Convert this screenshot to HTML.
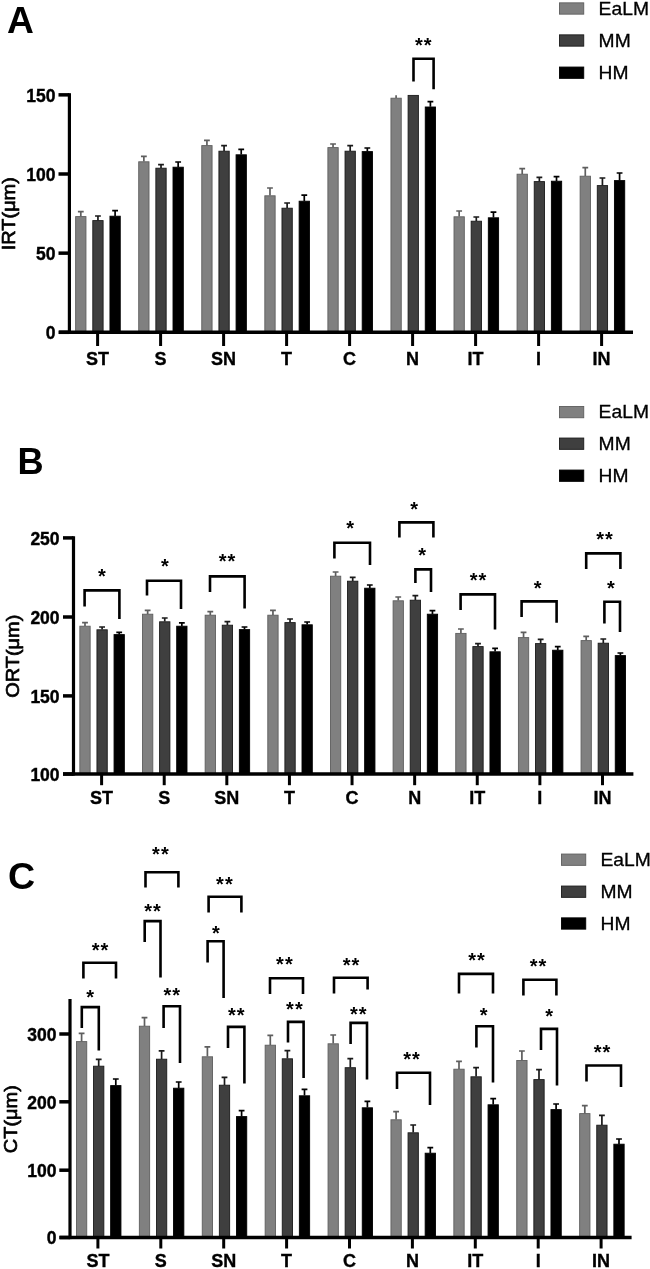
<!DOCTYPE html>
<html><head><meta charset="utf-8"><title>Figure</title>
<style>
html,body{margin:0;padding:0;background:#fff;}
svg{display:block;font-family:"Liberation Sans", sans-serif;fill:#000;will-change:transform;}
</style></head><body>
<svg width="650" height="1269" viewBox="0 0 650 1269">
<rect x="0" y="0" width="650" height="1269" fill="#fff"/>
<path d="M80.80 216.40V211.60M77.90 211.60H83.70" stroke="#5e5e5e" stroke-width="1.7" fill="none"/>
<rect x="75.65" y="216.60" width="10.30" height="115.90" fill="#808080" stroke="#5e5e5e" stroke-width="0.9"/>
<path d="M97.95 220.40V216.00M95.05 216.00H100.85" stroke="#1a1a1a" stroke-width="1.7" fill="none"/>
<rect x="92.80" y="220.60" width="10.30" height="111.90" fill="#3f3f3f" stroke="#1a1a1a" stroke-width="0.9"/>
<path d="M115.10 216.00V210.60M112.20 210.60H118.00" stroke="#000000" stroke-width="1.7" fill="none"/>
<rect x="109.95" y="216.20" width="10.30" height="116.30" fill="#000000" stroke="#000000" stroke-width="0.9"/>
<path d="M143.86 161.60V156.40M140.96 156.40H146.76" stroke="#5e5e5e" stroke-width="1.7" fill="none"/>
<rect x="138.71" y="161.80" width="10.30" height="170.70" fill="#808080" stroke="#5e5e5e" stroke-width="0.9"/>
<path d="M161.01 168.00V164.60M158.11 164.60H163.91" stroke="#1a1a1a" stroke-width="1.7" fill="none"/>
<rect x="155.86" y="168.20" width="10.30" height="164.30" fill="#3f3f3f" stroke="#1a1a1a" stroke-width="0.9"/>
<path d="M178.16 167.00V162.00M175.26 162.00H181.06" stroke="#000000" stroke-width="1.7" fill="none"/>
<rect x="173.01" y="167.20" width="10.30" height="165.30" fill="#000000" stroke="#000000" stroke-width="0.9"/>
<path d="M206.92 145.40V140.40M204.02 140.40H209.82" stroke="#5e5e5e" stroke-width="1.7" fill="none"/>
<rect x="201.77" y="145.60" width="10.30" height="186.90" fill="#808080" stroke="#5e5e5e" stroke-width="0.9"/>
<path d="M224.07 151.00V145.60M221.17 145.60H226.97" stroke="#1a1a1a" stroke-width="1.7" fill="none"/>
<rect x="218.92" y="151.20" width="10.30" height="181.30" fill="#3f3f3f" stroke="#1a1a1a" stroke-width="0.9"/>
<path d="M241.22 154.60V149.40M238.32 149.40H244.12" stroke="#000000" stroke-width="1.7" fill="none"/>
<rect x="236.07" y="154.80" width="10.30" height="177.70" fill="#000000" stroke="#000000" stroke-width="0.9"/>
<path d="M269.98 195.60V188.00M267.08 188.00H272.88" stroke="#5e5e5e" stroke-width="1.7" fill="none"/>
<rect x="264.83" y="195.80" width="10.30" height="136.70" fill="#808080" stroke="#5e5e5e" stroke-width="0.9"/>
<path d="M287.13 208.00V203.00M284.23 203.00H290.03" stroke="#1a1a1a" stroke-width="1.7" fill="none"/>
<rect x="281.98" y="208.20" width="10.30" height="124.30" fill="#3f3f3f" stroke="#1a1a1a" stroke-width="0.9"/>
<path d="M304.28 201.00V195.20M301.38 195.20H307.18" stroke="#000000" stroke-width="1.7" fill="none"/>
<rect x="299.13" y="201.20" width="10.30" height="131.30" fill="#000000" stroke="#000000" stroke-width="0.9"/>
<path d="M333.04 147.40V144.00M330.14 144.00H335.94" stroke="#5e5e5e" stroke-width="1.7" fill="none"/>
<rect x="327.89" y="147.60" width="10.30" height="184.90" fill="#808080" stroke="#5e5e5e" stroke-width="0.9"/>
<path d="M350.19 151.00V145.60M347.29 145.60H353.09" stroke="#1a1a1a" stroke-width="1.7" fill="none"/>
<rect x="345.04" y="151.20" width="10.30" height="181.30" fill="#3f3f3f" stroke="#1a1a1a" stroke-width="0.9"/>
<path d="M367.34 151.40V148.00M364.44 148.00H370.24" stroke="#000000" stroke-width="1.7" fill="none"/>
<rect x="362.19" y="151.60" width="10.30" height="180.90" fill="#000000" stroke="#000000" stroke-width="0.9"/>
<path d="M396.10 98.00V95.20" stroke="#5e5e5e" stroke-width="1.7" fill="none"/>
<rect x="390.95" y="98.20" width="10.30" height="234.30" fill="#808080" stroke="#5e5e5e" stroke-width="0.9"/>
<rect x="408.10" y="95.40" width="10.30" height="237.10" fill="#3f3f3f" stroke="#1a1a1a" stroke-width="0.9"/>
<path d="M430.40 106.80V101.60M427.50 101.60H433.30" stroke="#000000" stroke-width="1.7" fill="none"/>
<rect x="425.25" y="107.00" width="10.30" height="225.50" fill="#000000" stroke="#000000" stroke-width="0.9"/>
<path d="M459.16 216.60V211.00M456.26 211.00H462.06" stroke="#5e5e5e" stroke-width="1.7" fill="none"/>
<rect x="454.01" y="216.80" width="10.30" height="115.70" fill="#808080" stroke="#5e5e5e" stroke-width="0.9"/>
<path d="M476.31 221.00V217.00M473.41 217.00H479.21" stroke="#1a1a1a" stroke-width="1.7" fill="none"/>
<rect x="471.16" y="221.20" width="10.30" height="111.30" fill="#3f3f3f" stroke="#1a1a1a" stroke-width="0.9"/>
<path d="M493.46 217.60V212.20M490.56 212.20H496.36" stroke="#000000" stroke-width="1.7" fill="none"/>
<rect x="488.31" y="217.80" width="10.30" height="114.70" fill="#000000" stroke="#000000" stroke-width="0.9"/>
<path d="M522.22 174.00V168.60M519.32 168.60H525.12" stroke="#5e5e5e" stroke-width="1.7" fill="none"/>
<rect x="517.07" y="174.20" width="10.30" height="158.30" fill="#808080" stroke="#5e5e5e" stroke-width="0.9"/>
<path d="M539.37 181.40V177.40M536.47 177.40H542.27" stroke="#1a1a1a" stroke-width="1.7" fill="none"/>
<rect x="534.22" y="181.60" width="10.30" height="150.90" fill="#3f3f3f" stroke="#1a1a1a" stroke-width="0.9"/>
<path d="M556.52 181.00V176.60M553.62 176.60H559.42" stroke="#000000" stroke-width="1.7" fill="none"/>
<rect x="551.37" y="181.20" width="10.30" height="151.30" fill="#000000" stroke="#000000" stroke-width="0.9"/>
<path d="M585.28 176.00V167.60M582.38 167.60H588.18" stroke="#5e5e5e" stroke-width="1.7" fill="none"/>
<rect x="580.13" y="176.20" width="10.30" height="156.30" fill="#808080" stroke="#5e5e5e" stroke-width="0.9"/>
<path d="M602.43 185.40V178.00M599.53 178.00H605.33" stroke="#1a1a1a" stroke-width="1.7" fill="none"/>
<rect x="597.28" y="185.60" width="10.30" height="146.90" fill="#3f3f3f" stroke="#1a1a1a" stroke-width="0.9"/>
<path d="M619.58 180.40V173.00M616.68 173.00H622.48" stroke="#000000" stroke-width="1.7" fill="none"/>
<rect x="614.43" y="180.60" width="10.30" height="151.90" fill="#000000" stroke="#000000" stroke-width="0.9"/>
<path d="M69.40 93.20V333.90" stroke="#000" stroke-width="3.2" fill="none"/>
<path d="M59.00 332.30H633.00" stroke="#000" stroke-width="3.5" fill="none"/>
<path d="M58.50 332.30H69.40" stroke="#000" stroke-width="3.5" fill="none"/>
<text x="55.40" y="339.15" font-size="17.5" font-weight="700" text-anchor="end" stroke="#000" stroke-width="0.4">0</text>
<path d="M58.50 253.15H69.40" stroke="#000" stroke-width="3.5" fill="none"/>
<text x="55.40" y="260.00" font-size="17.5" font-weight="700" text-anchor="end" stroke="#000" stroke-width="0.4">50</text>
<path d="M58.50 174.00H69.40" stroke="#000" stroke-width="3.5" fill="none"/>
<text x="55.40" y="180.85" font-size="17.5" font-weight="700" text-anchor="end" stroke="#000" stroke-width="0.4">100</text>
<path d="M58.50 94.85H69.40" stroke="#000" stroke-width="3.5" fill="none"/>
<text x="55.40" y="101.70" font-size="17.5" font-weight="700" text-anchor="end" stroke="#000" stroke-width="0.4">150</text>
<path d="M97.60 332.30V346.00" stroke="#000" stroke-width="3" fill="none"/>
<text x="97.60" y="365.00" font-size="18" font-weight="700" text-anchor="middle" stroke="#000" stroke-width="0.35">ST</text>
<path d="M160.60 332.30V346.00" stroke="#000" stroke-width="3" fill="none"/>
<text x="160.60" y="365.00" font-size="18" font-weight="700" text-anchor="middle" stroke="#000" stroke-width="0.35">S</text>
<path d="M223.60 332.30V346.00" stroke="#000" stroke-width="3" fill="none"/>
<text x="223.60" y="365.00" font-size="18" font-weight="700" text-anchor="middle" stroke="#000" stroke-width="0.35">SN</text>
<path d="M286.60 332.30V346.00" stroke="#000" stroke-width="3" fill="none"/>
<text x="286.60" y="365.00" font-size="18" font-weight="700" text-anchor="middle" stroke="#000" stroke-width="0.35">T</text>
<path d="M349.60 332.30V346.00" stroke="#000" stroke-width="3" fill="none"/>
<text x="349.60" y="365.00" font-size="18" font-weight="700" text-anchor="middle" stroke="#000" stroke-width="0.35">C</text>
<path d="M412.60 332.30V346.00" stroke="#000" stroke-width="3" fill="none"/>
<text x="412.60" y="365.00" font-size="18" font-weight="700" text-anchor="middle" stroke="#000" stroke-width="0.35">N</text>
<path d="M475.60 332.30V346.00" stroke="#000" stroke-width="3" fill="none"/>
<text x="475.60" y="365.00" font-size="18" font-weight="700" text-anchor="middle" stroke="#000" stroke-width="0.35">IT</text>
<path d="M538.60 332.30V346.00" stroke="#000" stroke-width="3" fill="none"/>
<text x="538.60" y="365.00" font-size="18" font-weight="700" text-anchor="middle" stroke="#000" stroke-width="0.35">I</text>
<path d="M601.60 332.30V346.00" stroke="#000" stroke-width="3" fill="none"/>
<text x="601.60" y="365.00" font-size="18" font-weight="700" text-anchor="middle" stroke="#000" stroke-width="0.35">IN</text>
<path d="M413.50 81.60V58.75H433.60V89.30" stroke="#000" stroke-width="2.6" fill="none" stroke-linejoin="miter" stroke-linecap="butt"/>
<text x="414.88" y="51.56" font-size="20.0" font-weight="700" letter-spacing="1.05">**</text>
<rect x="559.45" y="2.85" width="24.3" height="11.3" fill="#808080" stroke="#5e5e5e" stroke-width="0.9"/>
<text transform="translate(598.60 14.60) scale(1.06 1)" font-size="18.2" font-weight="400" stroke="#000" stroke-width="0.3">EaLM</text>
<rect x="559.45" y="34.85" width="24.3" height="11.3" fill="#3f3f3f" stroke="#1a1a1a" stroke-width="0.9"/>
<text transform="translate(598.60 46.70) scale(1.06 1)" font-size="18.2" font-weight="400" stroke="#000" stroke-width="0.3">MM</text>
<rect x="559.45" y="67.05" width="24.3" height="11.3" fill="#000000" stroke="#000000" stroke-width="0.9"/>
<text transform="translate(598.60 78.60) scale(1.06 1)" font-size="18.2" font-weight="400" stroke="#000" stroke-width="0.3">HM</text>
<text transform="translate(14.90 213.70) rotate(-90) scale(1.05 1)" font-size="19.0" font-weight="400" text-anchor="middle" stroke="#000" stroke-width="0.7" stroke-linejoin="round">IRT(μm)</text>
<text x="7.00" y="33.00" font-size="37.2" font-weight="700">A</text>
<path d="M85.00 626.00V622.60M82.10 622.60H87.90" stroke="#5e5e5e" stroke-width="1.7" fill="none"/>
<rect x="79.85" y="626.20" width="10.30" height="148.00" fill="#808080" stroke="#5e5e5e" stroke-width="0.9"/>
<path d="M102.10 629.60V627.00M99.20 627.00H105.00" stroke="#1a1a1a" stroke-width="1.7" fill="none"/>
<rect x="96.95" y="629.80" width="10.30" height="144.40" fill="#3f3f3f" stroke="#1a1a1a" stroke-width="0.9"/>
<path d="M119.20 634.40V632.40M116.30 632.40H122.10" stroke="#000000" stroke-width="1.7" fill="none"/>
<rect x="114.05" y="634.60" width="10.30" height="139.60" fill="#000000" stroke="#000000" stroke-width="0.9"/>
<path d="M147.65 614.00V610.40M144.75 610.40H150.55" stroke="#5e5e5e" stroke-width="1.7" fill="none"/>
<rect x="142.50" y="614.20" width="10.30" height="160.00" fill="#808080" stroke="#5e5e5e" stroke-width="0.9"/>
<path d="M164.75 621.60V618.00M161.85 618.00H167.65" stroke="#1a1a1a" stroke-width="1.7" fill="none"/>
<rect x="159.60" y="621.80" width="10.30" height="152.40" fill="#3f3f3f" stroke="#1a1a1a" stroke-width="0.9"/>
<path d="M181.85 626.00V622.80M178.95 622.80H184.75" stroke="#000000" stroke-width="1.7" fill="none"/>
<rect x="176.70" y="626.20" width="10.30" height="148.00" fill="#000000" stroke="#000000" stroke-width="0.9"/>
<path d="M210.30 615.00V611.60M207.40 611.60H213.20" stroke="#5e5e5e" stroke-width="1.7" fill="none"/>
<rect x="205.15" y="615.20" width="10.30" height="159.00" fill="#808080" stroke="#5e5e5e" stroke-width="0.9"/>
<path d="M227.40 625.00V621.60M224.50 621.60H230.30" stroke="#1a1a1a" stroke-width="1.7" fill="none"/>
<rect x="222.25" y="625.20" width="10.30" height="149.00" fill="#3f3f3f" stroke="#1a1a1a" stroke-width="0.9"/>
<path d="M244.50 629.40V627.00M241.60 627.00H247.40" stroke="#000000" stroke-width="1.7" fill="none"/>
<rect x="239.35" y="629.60" width="10.30" height="144.60" fill="#000000" stroke="#000000" stroke-width="0.9"/>
<path d="M272.95 615.00V610.40M270.05 610.40H275.85" stroke="#5e5e5e" stroke-width="1.7" fill="none"/>
<rect x="267.80" y="615.20" width="10.30" height="159.00" fill="#808080" stroke="#5e5e5e" stroke-width="0.9"/>
<path d="M290.05 622.40V619.00M287.15 619.00H292.95" stroke="#1a1a1a" stroke-width="1.7" fill="none"/>
<rect x="284.90" y="622.60" width="10.30" height="151.60" fill="#3f3f3f" stroke="#1a1a1a" stroke-width="0.9"/>
<path d="M307.15 624.60V622.00M304.25 622.00H310.05" stroke="#000000" stroke-width="1.7" fill="none"/>
<rect x="302.00" y="624.80" width="10.30" height="149.40" fill="#000000" stroke="#000000" stroke-width="0.9"/>
<path d="M335.60 576.00V572.00M332.70 572.00H338.50" stroke="#5e5e5e" stroke-width="1.7" fill="none"/>
<rect x="330.45" y="576.20" width="10.30" height="198.00" fill="#808080" stroke="#5e5e5e" stroke-width="0.9"/>
<path d="M352.70 581.00V577.40M349.80 577.40H355.60" stroke="#1a1a1a" stroke-width="1.7" fill="none"/>
<rect x="347.55" y="581.20" width="10.30" height="193.00" fill="#3f3f3f" stroke="#1a1a1a" stroke-width="0.9"/>
<path d="M369.80 588.00V585.00M366.90 585.00H372.70" stroke="#000000" stroke-width="1.7" fill="none"/>
<rect x="364.65" y="588.20" width="10.30" height="186.00" fill="#000000" stroke="#000000" stroke-width="0.9"/>
<path d="M398.25 600.60V597.00M395.35 597.00H401.15" stroke="#5e5e5e" stroke-width="1.7" fill="none"/>
<rect x="393.10" y="600.80" width="10.30" height="173.40" fill="#808080" stroke="#5e5e5e" stroke-width="0.9"/>
<path d="M415.35 600.00V595.60M412.45 595.60H418.25" stroke="#1a1a1a" stroke-width="1.7" fill="none"/>
<rect x="410.20" y="600.20" width="10.30" height="174.00" fill="#3f3f3f" stroke="#1a1a1a" stroke-width="0.9"/>
<path d="M432.45 614.00V610.60M429.55 610.60H435.35" stroke="#000000" stroke-width="1.7" fill="none"/>
<rect x="427.30" y="614.20" width="10.30" height="160.00" fill="#000000" stroke="#000000" stroke-width="0.9"/>
<path d="M460.90 633.20V629.00M458.00 629.00H463.80" stroke="#5e5e5e" stroke-width="1.7" fill="none"/>
<rect x="455.75" y="633.40" width="10.30" height="140.80" fill="#808080" stroke="#5e5e5e" stroke-width="0.9"/>
<path d="M478.00 646.40V643.60M475.10 643.60H480.90" stroke="#1a1a1a" stroke-width="1.7" fill="none"/>
<rect x="472.85" y="646.60" width="10.30" height="127.60" fill="#3f3f3f" stroke="#1a1a1a" stroke-width="0.9"/>
<path d="M495.10 651.60V648.40M492.20 648.40H498.00" stroke="#000000" stroke-width="1.7" fill="none"/>
<rect x="489.95" y="651.80" width="10.30" height="122.40" fill="#000000" stroke="#000000" stroke-width="0.9"/>
<path d="M523.55 637.40V632.40M520.65 632.40H526.45" stroke="#5e5e5e" stroke-width="1.7" fill="none"/>
<rect x="518.40" y="637.60" width="10.30" height="136.60" fill="#808080" stroke="#5e5e5e" stroke-width="0.9"/>
<path d="M540.65 643.40V639.40M537.75 639.40H543.55" stroke="#1a1a1a" stroke-width="1.7" fill="none"/>
<rect x="535.50" y="643.60" width="10.30" height="130.60" fill="#3f3f3f" stroke="#1a1a1a" stroke-width="0.9"/>
<path d="M557.75 650.00V646.60M554.85 646.60H560.65" stroke="#000000" stroke-width="1.7" fill="none"/>
<rect x="552.60" y="650.20" width="10.30" height="124.00" fill="#000000" stroke="#000000" stroke-width="0.9"/>
<path d="M586.20 640.40V636.40M583.30 636.40H589.10" stroke="#5e5e5e" stroke-width="1.7" fill="none"/>
<rect x="581.05" y="640.60" width="10.30" height="133.60" fill="#808080" stroke="#5e5e5e" stroke-width="0.9"/>
<path d="M603.30 643.00V639.00M600.40 639.00H606.20" stroke="#1a1a1a" stroke-width="1.7" fill="none"/>
<rect x="598.15" y="643.20" width="10.30" height="131.00" fill="#3f3f3f" stroke="#1a1a1a" stroke-width="0.9"/>
<path d="M620.40 655.40V653.00M617.50 653.00H623.30" stroke="#000000" stroke-width="1.7" fill="none"/>
<rect x="615.25" y="655.60" width="10.30" height="118.60" fill="#000000" stroke="#000000" stroke-width="0.9"/>
<path d="M73.50 536.30V775.60" stroke="#000" stroke-width="3.2" fill="none"/>
<path d="M63.00 774.00H633.40" stroke="#000" stroke-width="3.5" fill="none"/>
<path d="M63.00 774.00H73.50" stroke="#000" stroke-width="3.5" fill="none"/>
<text x="59.60" y="780.85" font-size="17.5" font-weight="700" text-anchor="end" stroke="#000" stroke-width="0.4">100</text>
<path d="M63.00 695.90H73.50" stroke="#000" stroke-width="3.5" fill="none"/>
<text x="59.60" y="702.75" font-size="17.5" font-weight="700" text-anchor="end" stroke="#000" stroke-width="0.4">150</text>
<path d="M63.00 617.00H73.50" stroke="#000" stroke-width="3.5" fill="none"/>
<text x="59.60" y="623.85" font-size="17.5" font-weight="700" text-anchor="end" stroke="#000" stroke-width="0.4">200</text>
<path d="M63.00 537.90H73.50" stroke="#000" stroke-width="3.5" fill="none"/>
<text x="59.60" y="544.75" font-size="17.5" font-weight="700" text-anchor="end" stroke="#000" stroke-width="0.4">250</text>
<path d="M101.60 774.00V785.20" stroke="#000" stroke-width="3" fill="none"/>
<text x="101.60" y="803.80" font-size="18" font-weight="700" text-anchor="middle" stroke="#000" stroke-width="0.35">ST</text>
<path d="M164.21 774.00V785.20" stroke="#000" stroke-width="3" fill="none"/>
<text x="164.21" y="803.80" font-size="18" font-weight="700" text-anchor="middle" stroke="#000" stroke-width="0.35">S</text>
<path d="M226.82 774.00V785.20" stroke="#000" stroke-width="3" fill="none"/>
<text x="226.82" y="803.80" font-size="18" font-weight="700" text-anchor="middle" stroke="#000" stroke-width="0.35">SN</text>
<path d="M289.43 774.00V785.20" stroke="#000" stroke-width="3" fill="none"/>
<text x="289.43" y="803.80" font-size="18" font-weight="700" text-anchor="middle" stroke="#000" stroke-width="0.35">T</text>
<path d="M352.04 774.00V785.20" stroke="#000" stroke-width="3" fill="none"/>
<text x="352.04" y="803.80" font-size="18" font-weight="700" text-anchor="middle" stroke="#000" stroke-width="0.35">C</text>
<path d="M414.65 774.00V785.20" stroke="#000" stroke-width="3" fill="none"/>
<text x="414.65" y="803.80" font-size="18" font-weight="700" text-anchor="middle" stroke="#000" stroke-width="0.35">N</text>
<path d="M477.26 774.00V785.20" stroke="#000" stroke-width="3" fill="none"/>
<text x="477.26" y="803.80" font-size="18" font-weight="700" text-anchor="middle" stroke="#000" stroke-width="0.35">IT</text>
<path d="M539.87 774.00V785.20" stroke="#000" stroke-width="3" fill="none"/>
<text x="539.87" y="803.80" font-size="18" font-weight="700" text-anchor="middle" stroke="#000" stroke-width="0.35">I</text>
<path d="M602.48 774.00V785.20" stroke="#000" stroke-width="3" fill="none"/>
<text x="602.48" y="803.80" font-size="18" font-weight="700" text-anchor="middle" stroke="#000" stroke-width="0.35">IN</text>
<path d="M84.60 606.60V590.40H119.40V619.00" stroke="#000" stroke-width="2.6" fill="none" stroke-linejoin="miter" stroke-linecap="butt"/>
<text x="97.89" y="583.36" font-size="20.0" font-weight="700" letter-spacing="1.05">*</text>
<path d="M147.00 595.60V580.80H181.00V609.00" stroke="#000" stroke-width="2.6" fill="none" stroke-linejoin="miter" stroke-linecap="butt"/>
<text x="161.09" y="572.96" font-size="20.0" font-weight="700" letter-spacing="1.05">*</text>
<path d="M210.00 592.00V576.40H244.60V608.60" stroke="#000" stroke-width="2.6" fill="none" stroke-linejoin="miter" stroke-linecap="butt"/>
<text x="218.68" y="568.36" font-size="20.0" font-weight="700" letter-spacing="1.05">**</text>
<path d="M334.40 558.60V542.80H370.00V565.00" stroke="#000" stroke-width="2.6" fill="none" stroke-linejoin="miter" stroke-linecap="butt"/>
<text x="346.29" y="535.36" font-size="20.0" font-weight="700" letter-spacing="1.05">*</text>
<path d="M399.40 537.60V522.40H433.40V537.60" stroke="#000" stroke-width="2.6" fill="none" stroke-linejoin="miter" stroke-linecap="butt"/>
<text x="410.29" y="515.76" font-size="20.0" font-weight="700" letter-spacing="1.05">*</text>
<path d="M415.40 583.00V569.40H431.00V592.00" stroke="#000" stroke-width="2.6" fill="none" stroke-linejoin="miter" stroke-linecap="butt"/>
<text x="418.29" y="562.16" font-size="20.0" font-weight="700" letter-spacing="1.05">*</text>
<path d="M460.60 610.00V594.40H495.00V629.40" stroke="#000" stroke-width="2.6" fill="none" stroke-linejoin="miter" stroke-linecap="butt"/>
<text x="469.68" y="586.96" font-size="20.0" font-weight="700" letter-spacing="1.05">**</text>
<path d="M521.60 617.00V601.40H556.60V622.80" stroke="#000" stroke-width="2.6" fill="none" stroke-linejoin="miter" stroke-linecap="butt"/>
<text x="533.79" y="595.36" font-size="20.0" font-weight="700" letter-spacing="1.05">*</text>
<path d="M586.20 569.00V553.40H620.40V569.00" stroke="#000" stroke-width="2.6" fill="none" stroke-linejoin="miter" stroke-linecap="butt"/>
<text x="596.28" y="546.36" font-size="20.0" font-weight="700" letter-spacing="1.05">**</text>
<path d="M604.40 623.60V601.80H620.00V632.00" stroke="#000" stroke-width="2.6" fill="none" stroke-linejoin="miter" stroke-linecap="butt"/>
<text x="607.09" y="595.36" font-size="20.0" font-weight="700" letter-spacing="1.05">*</text>
<rect x="559.45" y="406.45" width="24.3" height="11.3" fill="#808080" stroke="#5e5e5e" stroke-width="0.9"/>
<text transform="translate(598.60 418.30) scale(1.06 1)" font-size="18.2" font-weight="400" stroke="#000" stroke-width="0.3">EaLM</text>
<rect x="559.45" y="438.05" width="24.3" height="11.3" fill="#3f3f3f" stroke="#1a1a1a" stroke-width="0.9"/>
<text transform="translate(598.60 450.00) scale(1.06 1)" font-size="18.2" font-weight="400" stroke="#000" stroke-width="0.3">MM</text>
<rect x="559.45" y="470.05" width="24.3" height="11.3" fill="#000000" stroke="#000000" stroke-width="0.9"/>
<text transform="translate(598.60 481.70) scale(1.06 1)" font-size="18.2" font-weight="400" stroke="#000" stroke-width="0.3">HM</text>
<text transform="translate(18.80 656.20) rotate(-90) scale(1.05 1)" font-size="19.0" font-weight="400" text-anchor="middle" stroke="#000" stroke-width="0.7" stroke-linejoin="round">ORT(μm)</text>
<text x="17.60" y="474.30" font-size="36.2" font-weight="700">B</text>
<path d="M81.60 1041.40V1033.40M78.70 1033.40H84.50" stroke="#5e5e5e" stroke-width="1.7" fill="none"/>
<rect x="76.45" y="1041.60" width="10.30" height="196.10" fill="#808080" stroke="#5e5e5e" stroke-width="0.9"/>
<path d="M98.70 1066.00V1059.40M95.80 1059.40H101.60" stroke="#1a1a1a" stroke-width="1.7" fill="none"/>
<rect x="93.55" y="1066.20" width="10.30" height="171.50" fill="#3f3f3f" stroke="#1a1a1a" stroke-width="0.9"/>
<path d="M115.80 1085.40V1079.00M112.90 1079.00H118.70" stroke="#000000" stroke-width="1.7" fill="none"/>
<rect x="110.65" y="1085.60" width="10.30" height="152.10" fill="#000000" stroke="#000000" stroke-width="0.9"/>
<path d="M144.50 1026.00V1017.60M141.60 1017.60H147.40" stroke="#5e5e5e" stroke-width="1.7" fill="none"/>
<rect x="139.35" y="1026.20" width="10.30" height="211.50" fill="#808080" stroke="#5e5e5e" stroke-width="0.9"/>
<path d="M161.60 1059.00V1050.80M158.70 1050.80H164.50" stroke="#1a1a1a" stroke-width="1.7" fill="none"/>
<rect x="156.45" y="1059.20" width="10.30" height="178.50" fill="#3f3f3f" stroke="#1a1a1a" stroke-width="0.9"/>
<path d="M178.70 1088.00V1082.00M175.80 1082.00H181.60" stroke="#000000" stroke-width="1.7" fill="none"/>
<rect x="173.55" y="1088.20" width="10.30" height="149.50" fill="#000000" stroke="#000000" stroke-width="0.9"/>
<path d="M207.40 1056.60V1046.80M204.50 1046.80H210.30" stroke="#5e5e5e" stroke-width="1.7" fill="none"/>
<rect x="202.25" y="1056.80" width="10.30" height="180.90" fill="#808080" stroke="#5e5e5e" stroke-width="0.9"/>
<path d="M224.50 1085.00V1077.40M221.60 1077.40H227.40" stroke="#1a1a1a" stroke-width="1.7" fill="none"/>
<rect x="219.35" y="1085.20" width="10.30" height="152.50" fill="#3f3f3f" stroke="#1a1a1a" stroke-width="0.9"/>
<path d="M241.60 1116.40V1110.60M238.70 1110.60H244.50" stroke="#000000" stroke-width="1.7" fill="none"/>
<rect x="236.45" y="1116.60" width="10.30" height="121.10" fill="#000000" stroke="#000000" stroke-width="0.9"/>
<path d="M270.30 1045.00V1035.40M267.40 1035.40H273.20" stroke="#5e5e5e" stroke-width="1.7" fill="none"/>
<rect x="265.15" y="1045.20" width="10.30" height="192.50" fill="#808080" stroke="#5e5e5e" stroke-width="0.9"/>
<path d="M287.40 1058.60V1050.60M284.50 1050.60H290.30" stroke="#1a1a1a" stroke-width="1.7" fill="none"/>
<rect x="282.25" y="1058.80" width="10.30" height="178.90" fill="#3f3f3f" stroke="#1a1a1a" stroke-width="0.9"/>
<path d="M304.50 1095.60V1089.40M301.60 1089.40H307.40" stroke="#000000" stroke-width="1.7" fill="none"/>
<rect x="299.35" y="1095.80" width="10.30" height="141.90" fill="#000000" stroke="#000000" stroke-width="0.9"/>
<path d="M333.20 1043.60V1035.00M330.30 1035.00H336.10" stroke="#5e5e5e" stroke-width="1.7" fill="none"/>
<rect x="328.05" y="1043.80" width="10.30" height="193.90" fill="#808080" stroke="#5e5e5e" stroke-width="0.9"/>
<path d="M350.30 1067.50V1058.70M347.40 1058.70H353.20" stroke="#1a1a1a" stroke-width="1.7" fill="none"/>
<rect x="345.15" y="1067.70" width="10.30" height="170.00" fill="#3f3f3f" stroke="#1a1a1a" stroke-width="0.9"/>
<path d="M367.40 1107.60V1101.40M364.50 1101.40H370.30" stroke="#000000" stroke-width="1.7" fill="none"/>
<rect x="362.25" y="1107.80" width="10.30" height="129.90" fill="#000000" stroke="#000000" stroke-width="0.9"/>
<path d="M396.10 1119.60V1111.60M393.20 1111.60H399.00" stroke="#5e5e5e" stroke-width="1.7" fill="none"/>
<rect x="390.95" y="1119.80" width="10.30" height="117.90" fill="#808080" stroke="#5e5e5e" stroke-width="0.9"/>
<path d="M413.20 1132.60V1125.00M410.30 1125.00H416.10" stroke="#1a1a1a" stroke-width="1.7" fill="none"/>
<rect x="408.05" y="1132.80" width="10.30" height="104.90" fill="#3f3f3f" stroke="#1a1a1a" stroke-width="0.9"/>
<path d="M430.30 1153.00V1147.60M427.40 1147.60H433.20" stroke="#000000" stroke-width="1.7" fill="none"/>
<rect x="425.15" y="1153.20" width="10.30" height="84.50" fill="#000000" stroke="#000000" stroke-width="0.9"/>
<path d="M459.00 1069.00V1061.40M456.10 1061.40H461.90" stroke="#5e5e5e" stroke-width="1.7" fill="none"/>
<rect x="453.85" y="1069.20" width="10.30" height="168.50" fill="#808080" stroke="#5e5e5e" stroke-width="0.9"/>
<path d="M476.10 1076.60V1067.60M473.20 1067.60H479.00" stroke="#1a1a1a" stroke-width="1.7" fill="none"/>
<rect x="470.95" y="1076.80" width="10.30" height="160.90" fill="#3f3f3f" stroke="#1a1a1a" stroke-width="0.9"/>
<path d="M493.20 1104.60V1098.60M490.30 1098.60H496.10" stroke="#000000" stroke-width="1.7" fill="none"/>
<rect x="488.05" y="1104.80" width="10.30" height="132.90" fill="#000000" stroke="#000000" stroke-width="0.9"/>
<path d="M521.90 1060.30V1051.00M519.00 1051.00H524.80" stroke="#5e5e5e" stroke-width="1.7" fill="none"/>
<rect x="516.75" y="1060.50" width="10.30" height="177.20" fill="#808080" stroke="#5e5e5e" stroke-width="0.9"/>
<path d="M539.00 1079.40V1069.60M536.10 1069.60H541.90" stroke="#1a1a1a" stroke-width="1.7" fill="none"/>
<rect x="533.85" y="1079.60" width="10.30" height="158.10" fill="#3f3f3f" stroke="#1a1a1a" stroke-width="0.9"/>
<path d="M556.10 1109.40V1104.00M553.20 1104.00H559.00" stroke="#000000" stroke-width="1.7" fill="none"/>
<rect x="550.95" y="1109.60" width="10.30" height="128.10" fill="#000000" stroke="#000000" stroke-width="0.9"/>
<path d="M584.80 1113.40V1105.60M581.90 1105.60H587.70" stroke="#5e5e5e" stroke-width="1.7" fill="none"/>
<rect x="579.65" y="1113.60" width="10.30" height="124.10" fill="#808080" stroke="#5e5e5e" stroke-width="0.9"/>
<path d="M601.90 1125.00V1115.40M599.00 1115.40H604.80" stroke="#1a1a1a" stroke-width="1.7" fill="none"/>
<rect x="596.75" y="1125.20" width="10.30" height="112.50" fill="#3f3f3f" stroke="#1a1a1a" stroke-width="0.9"/>
<path d="M619.00 1144.00V1139.00M616.10 1139.00H621.90" stroke="#000000" stroke-width="1.7" fill="none"/>
<rect x="613.85" y="1144.20" width="10.30" height="93.50" fill="#000000" stroke="#000000" stroke-width="0.9"/>
<path d="M70.00 999.00V1239.10" stroke="#000" stroke-width="3.2" fill="none"/>
<path d="M59.60 1237.50H631.60" stroke="#000" stroke-width="3.5" fill="none"/>
<path d="M59.30 1237.50H70.00" stroke="#000" stroke-width="3.5" fill="none"/>
<text x="56.40" y="1244.35" font-size="17.5" font-weight="700" text-anchor="end" stroke="#000" stroke-width="0.4">0</text>
<path d="M59.30 1170.20H70.00" stroke="#000" stroke-width="3.5" fill="none"/>
<text x="56.40" y="1177.05" font-size="17.5" font-weight="700" text-anchor="end" stroke="#000" stroke-width="0.4">100</text>
<path d="M59.30 1101.80H70.00" stroke="#000" stroke-width="3.5" fill="none"/>
<text x="56.40" y="1108.65" font-size="17.5" font-weight="700" text-anchor="end" stroke="#000" stroke-width="0.4">200</text>
<path d="M59.30 1034.00H70.00" stroke="#000" stroke-width="3.5" fill="none"/>
<text x="56.40" y="1040.85" font-size="17.5" font-weight="700" text-anchor="end" stroke="#000" stroke-width="0.4">300</text>
<path d="M97.90 1237.50V1248.50" stroke="#000" stroke-width="3" fill="none"/>
<text x="97.90" y="1266.80" font-size="18" font-weight="700" text-anchor="middle" stroke="#000" stroke-width="0.35">ST</text>
<path d="M160.80 1237.50V1248.50" stroke="#000" stroke-width="3" fill="none"/>
<text x="160.80" y="1266.80" font-size="18" font-weight="700" text-anchor="middle" stroke="#000" stroke-width="0.35">S</text>
<path d="M223.70 1237.50V1248.50" stroke="#000" stroke-width="3" fill="none"/>
<text x="223.70" y="1266.80" font-size="18" font-weight="700" text-anchor="middle" stroke="#000" stroke-width="0.35">SN</text>
<path d="M286.60 1237.50V1248.50" stroke="#000" stroke-width="3" fill="none"/>
<text x="286.60" y="1266.80" font-size="18" font-weight="700" text-anchor="middle" stroke="#000" stroke-width="0.35">T</text>
<path d="M349.50 1237.50V1248.50" stroke="#000" stroke-width="3" fill="none"/>
<text x="349.50" y="1266.80" font-size="18" font-weight="700" text-anchor="middle" stroke="#000" stroke-width="0.35">C</text>
<path d="M412.40 1237.50V1248.50" stroke="#000" stroke-width="3" fill="none"/>
<text x="412.40" y="1266.80" font-size="18" font-weight="700" text-anchor="middle" stroke="#000" stroke-width="0.35">N</text>
<path d="M475.30 1237.50V1248.50" stroke="#000" stroke-width="3" fill="none"/>
<text x="475.30" y="1266.80" font-size="18" font-weight="700" text-anchor="middle" stroke="#000" stroke-width="0.35">IT</text>
<path d="M538.20 1237.50V1248.50" stroke="#000" stroke-width="3" fill="none"/>
<text x="538.20" y="1266.80" font-size="18" font-weight="700" text-anchor="middle" stroke="#000" stroke-width="0.35">I</text>
<path d="M601.10 1237.50V1248.50" stroke="#000" stroke-width="3" fill="none"/>
<text x="601.10" y="1266.80" font-size="18" font-weight="700" text-anchor="middle" stroke="#000" stroke-width="0.35">IN</text>
<path d="M83.40 978.40V962.70H116.00V978.40" stroke="#000" stroke-width="2.6" fill="none" stroke-linejoin="miter" stroke-linecap="butt"/>
<text x="91.67" y="957.26" font-size="20.0" font-weight="700" letter-spacing="1.05">**</text>
<path d="M81.80 1028.00V1007.10H98.80V1050.60" stroke="#000" stroke-width="2.6" fill="none" stroke-linejoin="miter" stroke-linecap="butt"/>
<text x="86.29" y="1004.26" font-size="20.0" font-weight="700" letter-spacing="1.05">*</text>
<path d="M145.50 887.40V872.30H178.40V887.40" stroke="#000" stroke-width="2.6" fill="none" stroke-linejoin="miter" stroke-linecap="butt"/>
<text x="152.07" y="861.26" font-size="20.0" font-weight="700" letter-spacing="1.05">**</text>
<path d="M144.70 942.00V921.10H160.50V977.40" stroke="#000" stroke-width="2.6" fill="none" stroke-linejoin="miter" stroke-linecap="butt"/>
<text x="144.18" y="917.96" font-size="20.0" font-weight="700" letter-spacing="1.05">**</text>
<path d="M163.60 1028.00V1006.30H180.00V1063.00" stroke="#000" stroke-width="2.6" fill="none" stroke-linejoin="miter" stroke-linecap="butt"/>
<text x="163.48" y="1002.26" font-size="20.0" font-weight="700" letter-spacing="1.05">**</text>
<path d="M208.60 912.60V896.70H241.40V912.60" stroke="#000" stroke-width="2.6" fill="none" stroke-linejoin="miter" stroke-linecap="butt"/>
<text x="216.07" y="891.26" font-size="20.0" font-weight="700" letter-spacing="1.05">**</text>
<path d="M207.60 962.40V941.30H223.60V998.00" stroke="#000" stroke-width="2.6" fill="none" stroke-linejoin="miter" stroke-linecap="butt"/>
<text x="212.09" y="939.66" font-size="20.0" font-weight="700" letter-spacing="1.05">*</text>
<path d="M228.00 1048.00V1026.90H244.40V1083.40" stroke="#000" stroke-width="2.6" fill="none" stroke-linejoin="miter" stroke-linecap="butt"/>
<text x="227.88" y="1021.86" font-size="20.0" font-weight="700" letter-spacing="1.05">**</text>
<path d="M270.00 994.00V978.30H303.00V994.00" stroke="#000" stroke-width="2.6" fill="none" stroke-linejoin="miter" stroke-linecap="butt"/>
<text x="276.07" y="970.66" font-size="20.0" font-weight="700" letter-spacing="1.05">**</text>
<path d="M288.00 1042.40V1021.90H303.60V1078.00" stroke="#000" stroke-width="2.6" fill="none" stroke-linejoin="miter" stroke-linecap="butt"/>
<text x="286.07" y="1016.26" font-size="20.0" font-weight="700" letter-spacing="1.05">**</text>
<path d="M334.00 993.60V977.70H367.60V989.60" stroke="#000" stroke-width="2.6" fill="none" stroke-linejoin="miter" stroke-linecap="butt"/>
<text x="342.68" y="972.26" font-size="20.0" font-weight="700" letter-spacing="1.05">**</text>
<path d="M350.60 1044.00V1022.90H367.00V1079.40" stroke="#000" stroke-width="2.6" fill="none" stroke-linejoin="miter" stroke-linecap="butt"/>
<text x="349.88" y="1021.26" font-size="20.0" font-weight="700" letter-spacing="1.05">**</text>
<path d="M397.00 1089.00V1072.70H430.00V1105.00" stroke="#000" stroke-width="2.6" fill="none" stroke-linejoin="miter" stroke-linecap="butt"/>
<text x="403.28" y="1066.26" font-size="20.0" font-weight="700" letter-spacing="1.05">**</text>
<path d="M459.00 993.40V973.90H493.00V993.40" stroke="#000" stroke-width="2.6" fill="none" stroke-linejoin="miter" stroke-linecap="butt"/>
<text x="468.18" y="967.26" font-size="20.0" font-weight="700" letter-spacing="1.05">**</text>
<path d="M476.40 1047.40V1026.30H493.00V1082.40" stroke="#000" stroke-width="2.6" fill="none" stroke-linejoin="miter" stroke-linecap="butt"/>
<text x="479.79" y="1021.86" font-size="20.0" font-weight="700" letter-spacing="1.05">*</text>
<path d="M523.40 995.60V979.70H556.40V995.60" stroke="#000" stroke-width="2.6" fill="none" stroke-linejoin="miter" stroke-linecap="butt"/>
<text x="529.68" y="973.26" font-size="20.0" font-weight="700" letter-spacing="1.05">**</text>
<path d="M541.00 1050.00V1028.90H557.00V1085.40" stroke="#000" stroke-width="2.6" fill="none" stroke-linejoin="miter" stroke-linecap="butt"/>
<text x="545.19" y="1022.66" font-size="20.0" font-weight="700" letter-spacing="1.05">*</text>
<path d="M586.50 1081.40V1065.50H621.00V1087.00" stroke="#000" stroke-width="2.6" fill="none" stroke-linejoin="miter" stroke-linecap="butt"/>
<text x="593.68" y="1058.86" font-size="20.0" font-weight="700" letter-spacing="1.05">**</text>
<rect x="561.45" y="854.05" width="24.3" height="11.3" fill="#808080" stroke="#5e5e5e" stroke-width="0.9"/>
<text transform="translate(600.50 865.80) scale(1.06 1)" font-size="18.2" font-weight="400" stroke="#000" stroke-width="0.3">EaLM</text>
<rect x="561.45" y="886.05" width="24.3" height="11.3" fill="#3f3f3f" stroke="#1a1a1a" stroke-width="0.9"/>
<text transform="translate(600.50 897.80) scale(1.06 1)" font-size="18.2" font-weight="400" stroke="#000" stroke-width="0.3">MM</text>
<rect x="561.45" y="917.85" width="24.3" height="11.3" fill="#000000" stroke="#000000" stroke-width="0.9"/>
<text transform="translate(600.50 929.60) scale(1.06 1)" font-size="18.2" font-weight="400" stroke="#000" stroke-width="0.3">HM</text>
<text transform="translate(17.10 1119.20) rotate(-90) scale(1.05 1)" font-size="19.0" font-weight="400" text-anchor="middle" stroke="#000" stroke-width="0.7" stroke-linejoin="round">CT(μm)</text>
<text x="7.90" y="889.30" font-size="37.6" font-weight="700">C</text>
</svg>
</body></html>
